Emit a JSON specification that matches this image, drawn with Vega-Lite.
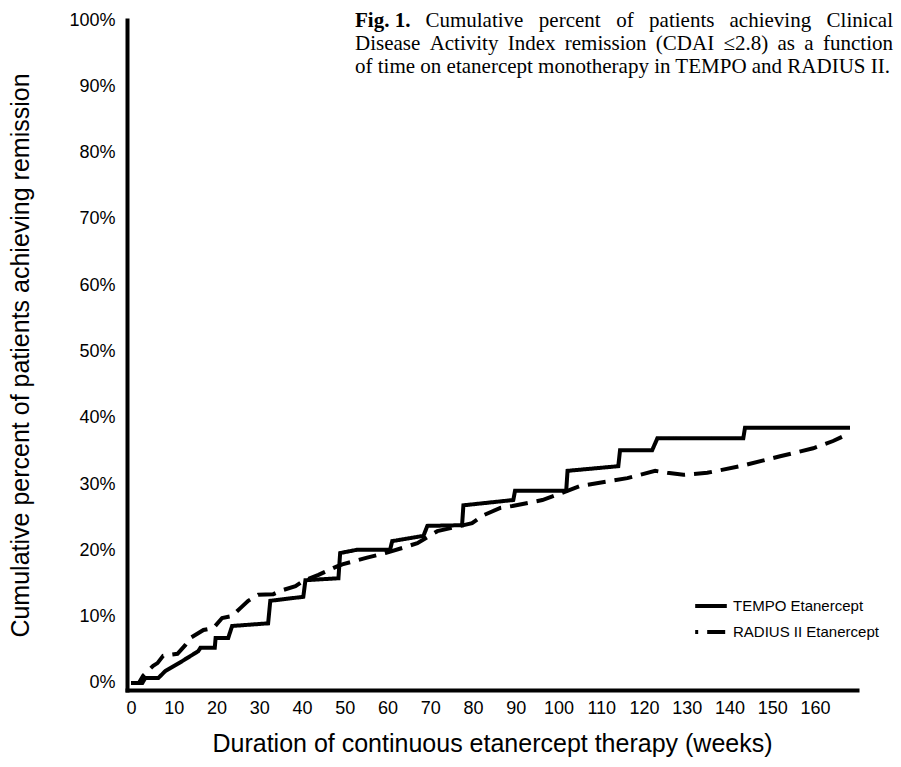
{
  "$schema": "https://vega.github.io/schema/vega-lite/v6.json",
  "width": 730,
  "height": 670,
  "autosize": {"type": "none"},
  "padding": {"left": 127, "top": 20, "right": 44, "bottom": 77},
  "background": "white",
  "config": {"view": {"stroke": null}, "font": "Liberation Sans"},
  "datasets": {
    "curves": [
      {"study": "TEMPO Etanercept", "week": 0, "pct": 0},
      {"study": "TEMPO Etanercept", "week": 2.64, "pct": 0},
      {"study": "TEMPO Etanercept", "week": 3.35, "pct": 0.75},
      {"study": "TEMPO Etanercept", "week": 6.39, "pct": 0.75},
      {"study": "TEMPO Etanercept", "week": 8.02, "pct": 1.8},
      {"study": "TEMPO Etanercept", "week": 11.98, "pct": 3.3},
      {"study": "TEMPO Etanercept", "week": 15.73, "pct": 4.8},
      {"study": "TEMPO Etanercept", "week": 16.24, "pct": 5.3},
      {"study": "TEMPO Etanercept", "week": 19.59, "pct": 5.3},
      {"study": "TEMPO Etanercept", "week": 19.79, "pct": 6.8},
      {"study": "TEMPO Etanercept", "week": 22.74, "pct": 6.8},
      {"study": "TEMPO Etanercept", "week": 23.65, "pct": 8.6},
      {"study": "TEMPO Etanercept", "week": 32.07, "pct": 9.0},
      {"study": "TEMPO Etanercept", "week": 32.58, "pct": 12.4},
      {"study": "TEMPO Etanercept", "week": 40.30, "pct": 13.0},
      {"study": "TEMPO Etanercept", "week": 40.80, "pct": 15.5},
      {"study": "TEMPO Etanercept", "week": 48.52, "pct": 15.8},
      {"study": "TEMPO Etanercept", "week": 48.92, "pct": 19.6},
      {"study": "TEMPO Etanercept", "week": 52.88, "pct": 20.1},
      {"study": "TEMPO Etanercept", "week": 60.60, "pct": 20.1},
      {"study": "TEMPO Etanercept", "week": 61.10, "pct": 21.4},
      {"study": "TEMPO Etanercept", "week": 68.41, "pct": 22.2},
      {"study": "TEMPO Etanercept", "week": 69.32, "pct": 23.7},
      {"study": "TEMPO Etanercept", "week": 77.44, "pct": 23.8},
      {"study": "TEMPO Etanercept", "week": 77.75, "pct": 26.8},
      {"study": "TEMPO Etanercept", "week": 89.42, "pct": 27.6},
      {"study": "TEMPO Etanercept", "week": 89.83, "pct": 29.0},
      {"study": "TEMPO Etanercept", "week": 101.80, "pct": 29.0},
      {"study": "TEMPO Etanercept", "week": 102.11, "pct": 32.0},
      {"study": "TEMPO Etanercept", "week": 113.98, "pct": 32.7},
      {"study": "TEMPO Etanercept", "week": 114.39, "pct": 35.1},
      {"study": "TEMPO Etanercept", "week": 121.90, "pct": 35.1},
      {"study": "TEMPO Etanercept", "week": 123.12, "pct": 36.9},
      {"study": "TEMPO Etanercept", "week": 143.22, "pct": 36.9},
      {"study": "TEMPO Etanercept", "week": 143.62, "pct": 38.5},
      {"study": "TEMPO Etanercept", "week": 168.19, "pct": 38.5},
      {"study": "RADIUS II Etanercept", "week": 0, "pct": 0},
      {"study": "RADIUS II Etanercept", "week": 1.83, "pct": 0},
      {"study": "RADIUS II Etanercept", "week": 2.84, "pct": 1.1},
      {"study": "RADIUS II Etanercept", "week": 5.18, "pct": 2.6},
      {"study": "RADIUS II Etanercept", "week": 6.19, "pct": 3.0},
      {"study": "RADIUS II Etanercept", "week": 7.51, "pct": 4.1},
      {"study": "RADIUS II Etanercept", "week": 10.86, "pct": 4.4},
      {"study": "RADIUS II Etanercept", "week": 12.69, "pct": 5.7},
      {"study": "RADIUS II Etanercept", "week": 13.91, "pct": 6.8},
      {"study": "RADIUS II Etanercept", "week": 16.95, "pct": 8.0},
      {"study": "RADIUS II Etanercept", "week": 19.28, "pct": 8.3},
      {"study": "RADIUS II Etanercept", "week": 21.31, "pct": 9.8},
      {"study": "RADIUS II Etanercept", "week": 23.65, "pct": 10.1},
      {"study": "RADIUS II Etanercept", "week": 25.58, "pct": 11.3},
      {"study": "RADIUS II Etanercept", "week": 27.41, "pct": 12.4},
      {"study": "RADIUS II Etanercept", "week": 29.74, "pct": 13.3},
      {"study": "RADIUS II Etanercept", "week": 33.29, "pct": 13.4},
      {"study": "RADIUS II Etanercept", "week": 35.42, "pct": 14.0},
      {"study": "RADIUS II Etanercept", "week": 38.47, "pct": 14.6},
      {"study": "RADIUS II Etanercept", "week": 40.30, "pct": 15.4},
      {"study": "RADIUS II Etanercept", "week": 43.85, "pct": 16.3},
      {"study": "RADIUS II Etanercept", "week": 48.21, "pct": 17.6},
      {"study": "RADIUS II Etanercept", "week": 49.43, "pct": 17.9},
      {"study": "RADIUS II Etanercept", "week": 55.22, "pct": 18.9},
      {"study": "RADIUS II Etanercept", "week": 59.48, "pct": 19.6},
      {"study": "RADIUS II Etanercept", "week": 63.64, "pct": 20.4},
      {"study": "RADIUS II Etanercept", "week": 66.99, "pct": 21.1},
      {"study": "RADIUS II Etanercept", "week": 71.66, "pct": 22.9},
      {"study": "RADIUS II Etanercept", "week": 79.78, "pct": 24.1},
      {"study": "RADIUS II Etanercept", "week": 82.42, "pct": 25.3},
      {"study": "RADIUS II Etanercept", "week": 86.38, "pct": 26.4},
      {"study": "RADIUS II Etanercept", "week": 89.22, "pct": 26.7},
      {"study": "RADIUS II Etanercept", "week": 96.22, "pct": 27.6},
      {"study": "RADIUS II Etanercept", "week": 99.67, "pct": 28.4},
      {"study": "RADIUS II Etanercept", "week": 105.05, "pct": 29.7},
      {"study": "RADIUS II Etanercept", "week": 116.11, "pct": 30.9},
      {"study": "RADIUS II Etanercept", "week": 122.61, "pct": 32.0},
      {"study": "RADIUS II Etanercept", "week": 125.45, "pct": 31.7},
      {"study": "RADIUS II Etanercept", "week": 129.21, "pct": 31.4},
      {"study": "RADIUS II Etanercept", "week": 134.79, "pct": 31.7},
      {"study": "RADIUS II Etanercept", "week": 142.50, "pct": 32.7},
      {"study": "RADIUS II Etanercept", "week": 151.84, "pct": 34.2},
      {"study": "RADIUS II Etanercept", "week": 159.56, "pct": 35.4},
      {"study": "RADIUS II Etanercept", "week": 164.23, "pct": 36.5},
      {"study": "RADIUS II Etanercept", "week": 168.19, "pct": 37.7}
    ]
  },
  "layer": [
    {
      "data": {"name": "curves"},
      "mark": {"type": "line", "strokeWidth": 4, "color": "black", "strokeCap": "butt"},
      "encoding": {
        "x": {
          "field": "week", "type": "quantitative",
          "scale": {"domain": [-0.94, 169.82], "nice": false, "zero": false},
          "axis": {
            "title": "Duration of continuous etanercept therapy (weeks)",
            "values": [0, 10, 20, 30, 40, 50, 60, 70, 80, 90, 100, 110, 120, 130, 140, 150, 160],
            "grid": false, "ticks": false, "labelPadding": 9,
            "domainColor": "black", "domainWidth": 4, "domainCap": "square",
            "labelFont": "Liberation Sans", "labelFontSize": 18, "labelColor": "black",
            "titleFont": "Liberation Sans", "titleFontSize": 25, "titleFontWeight": "normal",
            "titleColor": "black", "titlePadding": 14
          }
        },
        "y": {
          "field": "pct", "type": "quantitative",
          "scale": {"domain": [-1.056, 100], "nice": false, "zero": false},
          "axis": {
            "title": "Cumulative percent of patients achieving remission",
            "values": [0, 10, 20, 30, 40, 50, 60, 70, 80, 90, 100],
            "labelExpr": "datum.value + '%'",
            "grid": false, "ticks": false, "labelPadding": 12,
            "domainColor": "black", "domainWidth": 4, "domainCap": "square",
            "labelFont": "Liberation Sans", "labelFontSize": 18, "labelColor": "black",
            "titleFont": "Liberation Sans", "titleFontSize": 25, "titleFontWeight": "normal",
            "titleColor": "black", "titlePadding": 35
          }
        },
        "strokeDash": {
          "field": "study", "type": "nominal",
          "scale": {"domain": ["TEMPO Etanercept", "RADIUS II Etanercept"], "range": [[1, 0], [18, 9]]},
          "legend": {
            "title": null, "orient": "none", "legendX": 566, "legendY": 568,
            "symbolType": "stroke", "symbolStrokeWidth": 4, "symbolStrokeColor": "black",
            "symbolSize": 1000, "symbolDashOffset": 15,
            "labelFont": "Liberation Sans", "labelFontSize": 15, "labelColor": "black",
            "labelOffset": 4, "rowPadding": 0
          }
        }
      }
    },
    {"data": {"values": [{}]}, "mark": {"type": "text", "font": "Liberation Serif", "fontSize": 21, "fontWeight": "bold", "align": "left", "baseline": "alphabetic", "color": "black"},
     "encoding": {"x": {"datum": 52.40, "type": "quantitative"}, "y": {"datum": 98.94, "type": "quantitative"}, "text": {"value": "Fig. 1."}}},
    {"data": {"values": [{}]}, "mark": {"type": "text", "font": "Liberation Serif", "fontSize": 21, "align": "left", "baseline": "alphabetic", "color": "black"},
     "encoding": {"x": {"datum": 68.87, "type": "quantitative"}, "y": {"datum": 98.94, "type": "quantitative"}, "text": {"value": "Cumulative"}}},
    {"data": {"values": [{}]}, "mark": {"type": "text", "font": "Liberation Serif", "fontSize": 21, "align": "left", "baseline": "alphabetic", "color": "black"},
     "encoding": {"x": {"datum": 95.39, "type": "quantitative"}, "y": {"datum": 98.94, "type": "quantitative"}, "text": {"value": "percent"}}},
    {"data": {"values": [{}]}, "mark": {"type": "text", "font": "Liberation Serif", "fontSize": 21, "align": "left", "baseline": "alphabetic", "color": "black"},
     "encoding": {"x": {"datum": 113.50, "type": "quantitative"}, "y": {"datum": 98.94, "type": "quantitative"}, "text": {"value": "of"}}},
    {"data": {"values": [{}]}, "mark": {"type": "text", "font": "Liberation Serif", "fontSize": 21, "align": "left", "baseline": "alphabetic", "color": "black"},
     "encoding": {"x": {"datum": 121.19, "type": "quantitative"}, "y": {"datum": 98.94, "type": "quantitative"}, "text": {"value": "patients"}}},
    {"data": {"values": [{}]}, "mark": {"type": "text", "font": "Liberation Serif", "fontSize": 21, "align": "left", "baseline": "alphabetic", "color": "black"},
     "encoding": {"x": {"datum": 140.00, "type": "quantitative"}, "y": {"datum": 98.94, "type": "quantitative"}, "text": {"value": "achieving"}}},
    {"data": {"values": [{}]}, "mark": {"type": "text", "font": "Liberation Serif", "fontSize": 21, "align": "right", "baseline": "alphabetic", "color": "black"},
     "encoding": {"x": {"datum": 178.25, "type": "quantitative"}, "y": {"datum": 98.94, "type": "quantitative"}, "text": {"value": "Clinical"}}},
    {"data": {"values": [{}]}, "mark": {"type": "text", "font": "Liberation Serif", "fontSize": 21, "align": "left", "baseline": "alphabetic", "color": "black"},
     "encoding": {"x": {"datum": 52.40, "type": "quantitative"}, "y": {"datum": 95.48, "type": "quantitative"}, "text": {"value": "Disease"}}},
    {"data": {"values": [{}]}, "mark": {"type": "text", "font": "Liberation Serif", "fontSize": 21, "align": "left", "baseline": "alphabetic", "color": "black"},
     "encoding": {"x": {"datum": 69.85, "type": "quantitative"}, "y": {"datum": 95.48, "type": "quantitative"}, "text": {"value": "Activity"}}},
    {"data": {"values": [{}]}, "mark": {"type": "text", "font": "Liberation Serif", "fontSize": 21, "align": "left", "baseline": "alphabetic", "color": "black"},
     "encoding": {"x": {"datum": 88.12, "type": "quantitative"}, "y": {"datum": 95.48, "type": "quantitative"}, "text": {"value": "Index"}}},
    {"data": {"values": [{}]}, "mark": {"type": "text", "font": "Liberation Serif", "fontSize": 21, "align": "left", "baseline": "alphabetic", "color": "black"},
     "encoding": {"x": {"datum": 101.47, "type": "quantitative"}, "y": {"datum": 95.48, "type": "quantitative"}, "text": {"value": "remission"}}},
    {"data": {"values": [{}]}, "mark": {"type": "text", "font": "Liberation Serif", "fontSize": 21, "align": "left", "baseline": "alphabetic", "color": "black"},
     "encoding": {"x": {"datum": 122.76, "type": "quantitative"}, "y": {"datum": 95.48, "type": "quantitative"}, "text": {"value": "(CDAI"}}},
    {"data": {"values": [{}]}, "mark": {"type": "text", "font": "Liberation Serif", "fontSize": 21, "align": "left", "baseline": "alphabetic", "color": "black"},
     "encoding": {"x": {"datum": 138.57, "type": "quantitative"}, "y": {"datum": 95.48, "type": "quantitative"}, "text": {"value": "≤2.8)"}}},
    {"data": {"values": [{}]}, "mark": {"type": "text", "font": "Liberation Serif", "fontSize": 21, "align": "left", "baseline": "alphabetic", "color": "black"},
     "encoding": {"x": {"datum": 151.23, "type": "quantitative"}, "y": {"datum": 95.48, "type": "quantitative"}, "text": {"value": "as"}}},
    {"data": {"values": [{}]}, "mark": {"type": "text", "font": "Liberation Serif", "fontSize": 21, "align": "left", "baseline": "alphabetic", "color": "black"},
     "encoding": {"x": {"datum": 157.50, "type": "quantitative"}, "y": {"datum": 95.48, "type": "quantitative"}, "text": {"value": "a"}}},
    {"data": {"values": [{}]}, "mark": {"type": "text", "font": "Liberation Serif", "fontSize": 21, "align": "right", "baseline": "alphabetic", "color": "black"},
     "encoding": {"x": {"datum": 178.25, "type": "quantitative"}, "y": {"datum": 95.48, "type": "quantitative"}, "text": {"value": "function"}}},
    {"data": {"values": [{}]}, "mark": {"type": "text", "font": "Liberation Serif", "fontSize": 21, "align": "left", "baseline": "alphabetic", "color": "black"},
     "encoding": {"x": {"datum": 52.40, "type": "quantitative"}, "y": {"datum": 92.01, "type": "quantitative"}, "text": {"value": "of time on etanercept monotherapy in TEMPO and RADIUS II."}}}
  ]
}
